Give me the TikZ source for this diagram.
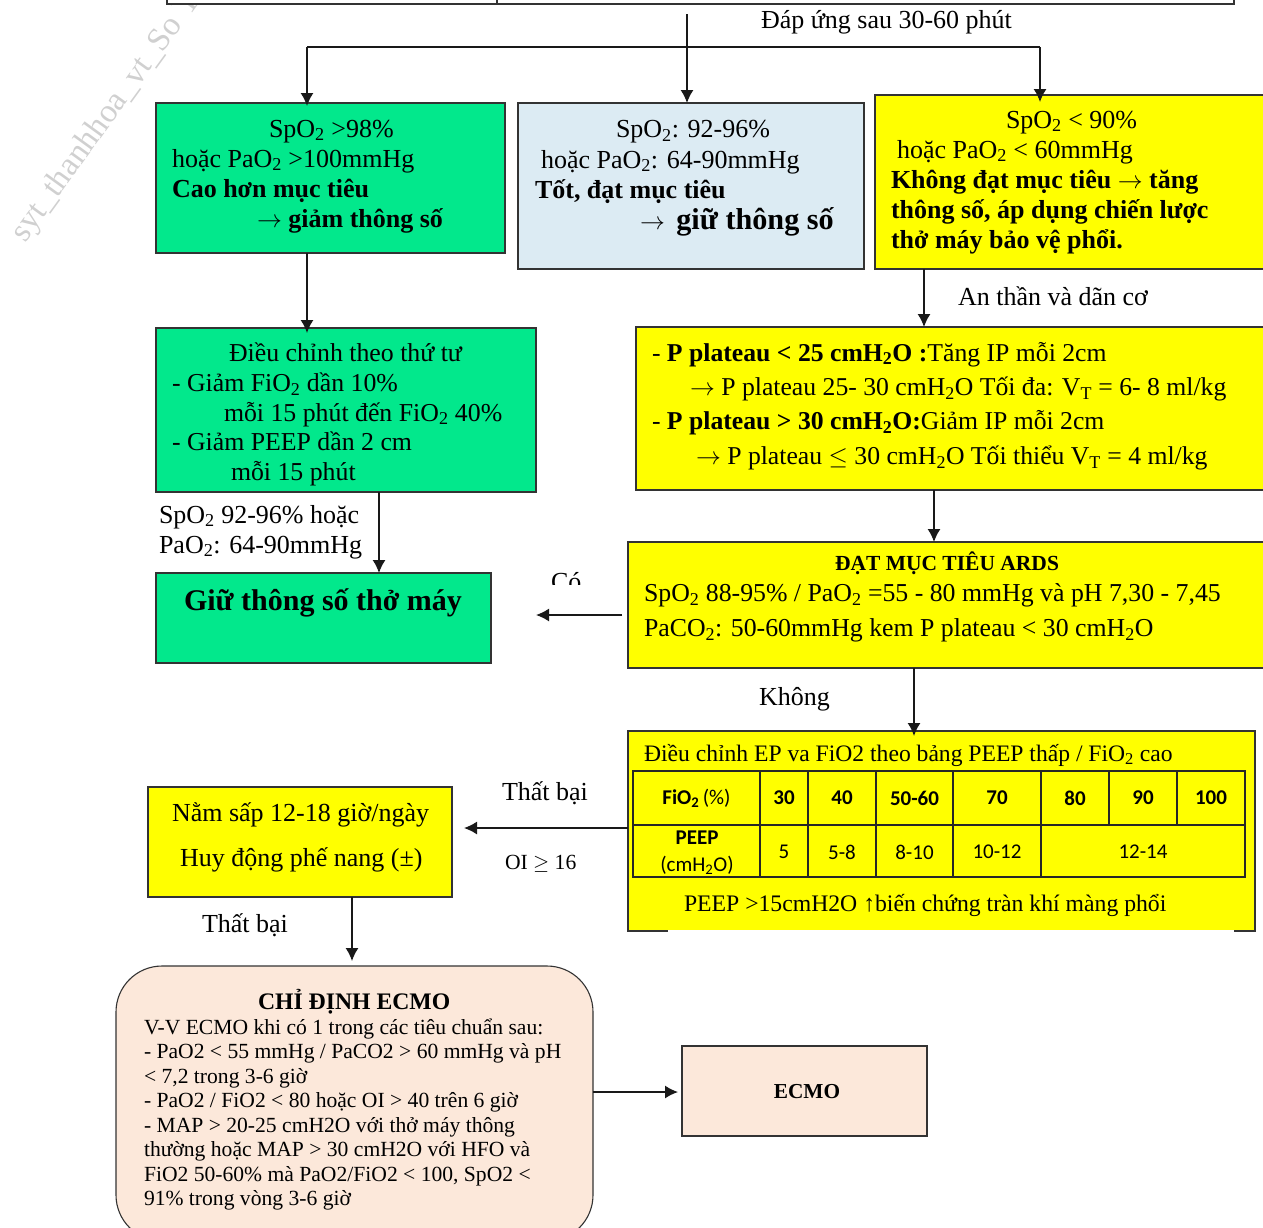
\documentclass[tikz,border=0pt]{standalone}
\usepackage{fontspec}
\setmainfont{Liberation Serif}
\newfontfamily\tblfont{Carlito}
\usetikzlibrary{arrows.meta,calc}
\definecolor{gbox}{RGB}{2,232,140}
\definecolor{ybox}{RGB}{255,255,0}
\definecolor{bbox}{RGB}{220,235,243}
\definecolor{pbox}{RGB}{252,232,218}
\definecolor{wm}{RGB}{208,208,208}
\newcommand{\dn}[1]{\textsubscript{#1}}
\newcommand{\fs}[2]{\fontsize{#1}{#2}\selectfont}
\newcommand{\ra}{$\rightarrow$}
\tikzset{
 boxbase/.style={draw=black!80,line width=1.1pt,anchor=north west,inner sep=0pt,outer sep=0pt},
 greenbox/.style={boxbase,fill=gbox},
 yellowbox/.style={boxbase,fill=ybox},
 bluebox/.style={boxbase,fill=bbox},
 peachbox/.style={boxbase,fill=pbox},
 block/.style={anchor=north west,inner sep=0pt,outer sep=0pt,align=left},
 lab/.style={anchor=base west,inner sep=0pt,outer sep=0pt},
 cellh/.style={inner sep=0pt,font=\tblfont\bfseries\fs{21}{24}},
 cellv/.style={inner sep=0pt,font=\tblfont\fs{21}{24}},
 arr/.style={-{Latex[length=13pt,width=13pt]},line width=1.4pt,black!90},
 plain/.style={line width=1.4pt,black!90},
}
\begin{document}
\begin{tikzpicture}[x=1pt,y=-1pt]
\useasboundingbox (0,0) rectangle (1263,1227);
\clip (0,0) rectangle (1263,1227);
% watermark
\node[lab,rotate=54,text=wm,font=\fs{33}{36}] (wmark) at (25,243) {syt\_thanhhoa\_vt\_So Y};
% top box
\node[boxbase,fill=white,minimum width=330,minimum height=24] (topa) at (167,-20) {};
\node[boxbase,fill=white,minimum width=737,minimum height=24] (topb) at (497,-20) {};
% boxes
\node[greenbox,minimum width=349,minimum height=150] (g1) at (156,103) {};
\node[bluebox,minimum width=346,minimum height=166] (b2) at (518,103) {};
\node[yellowbox,minimum width=400,minimum height=174] (y3) at (875,95) {};
\node[greenbox,minimum width=380,minimum height=164] (g4) at (156,328) {};
\node[yellowbox,minimum width=640,minimum height=163] (y5) at (636,327) {};
\node[greenbox,minimum width=335,minimum height=90] (g6) at (156,573) {};
\node[yellowbox,minimum width=650,minimum height=126] (y7) at (628,542) {};
\node[yellowbox,minimum width=627,minimum height=200] (y8) at (628,731) {};
\fill[white] (668,930) rectangle (1234,933);
\node[yellowbox,minimum width=304,minimum height=110] (y9) at (148,787) {};
\node[peachbox,rounded corners=46pt,minimum width=477,minimum height=275] (ec) at (116,966) {};
\node[peachbox,minimum width=245,minimum height=90] (ecmo) at (682,1046) {};
% texts
\node[block,font=\fs{26}{30}] (tg1) at (172,116) {\strut\hspace*{97pt}SpO\dn{2} >98\%\\hoặc PaO\dn{2} >100mmHg\\\textbf{Cao hơn mục tiêu}\\\hspace*{85pt}\textbf{\ra{} giảm thông số}};
\node[block,font=\fs{26}{30.6}] (tb2) at (535,116) {\strut\hspace*{81pt}SpO\dn{2}: 92-96\%\\\hspace*{6pt}hoặc PaO\dn{2}: 64-90mmHg\\\textbf{Tốt, đạt mục tiêu}\\\hspace*{105pt}\textbf{\fs{30.2}{31}\ra{}\hspace{0.38em}giữ thông số}};
\node[block,font=\fs{26}{30}] (ty3) at (891,107) {\strut\hspace*{115pt}SpO\dn{2} < 90\%\\\hspace*{6pt}hoặc PaO\dn{2} < 60mmHg\\\textbf{Không đạt mục tiêu \ra{} tăng}\\\textbf{thông số, áp dụng chiến lược}\\\textbf{thở máy bảo vệ phổi.}};
\node[block,font=\fs{25.8}{29.7}] (tg4) at (172,341) {\strut\hspace*{57pt}Điều chỉnh theo thứ tư\\- Giảm FiO\dn{2} dần 10\%\\\hspace*{52pt}mỗi 15 phút đến FiO\dn{2} 40\%\\- Giảm PEEP dần 2 cm\\\hspace*{59pt}mỗi 15 phút};
\node[block,font=\fs{25.7}{34.4}] (ty5) at (652,337) {\strut- \textbf{P plateau < 25 cmH\dn{2}O :}Tăng IP mỗi 2cm\\\hspace*{38pt}\ra{} P plateau 25- 30 cmH\dn{2}O Tối đa: V\dn{T} = 6- 8 ml/kg\\- \textbf{P plateau > 30 cmH\dn{2}O:}Giảm IP mỗi 2cm\\\hspace*{44pt}\ra{} P plateau $\leq$ 30 cmH\dn{2}O Tối thiểu V\dn{T} = 4 ml/kg};
\node[lab,font=\bfseries\fs{30}{32}] (tg6) at (184,610) {Giữ thông số thở máy};
\node[lab,font=\bfseries\fs{21.5}{24}] (ty7a) at (835,570) {ĐẠT MỤC TIÊU ARDS};
\node[block,font=\fs{25.8}{35}] (ty7) at (644,577) {\strut SpO\dn{2} 88-95\% / PaO\dn{2} =55 - 80 mmHg và pH 7,30 - 7,45\\PaCO\dn{2}: 50-60mmHg kem P plateau < 30 cmH\dn{2}O};
\node[lab,font=\fs{23.6}{24}] (ty8a) at (644,761) {Điều chỉnh EP va FiO2 theo bảng PEEP thấp / FiO\dn{2} cao};
\node[lab,font=\fs{23.7}{24}] (ty8b) at (684,911) {PEEP >15cmH2O ↑biến chứng tràn khí màng phổi};
\node[lab,font=\fs{26}{28}] (ty9a) at (172,821) {Nằm sấp 12-18 giờ/ngày};
\node[lab,font=\fs{26}{28}] (ty9b) at (180,866) {Huy động phế nang (±)};
\node[lab,font=\bfseries\fs{23.7}{26}] (tec0) at (258,1009) {CHỈ ĐỊNH ECMO};
\node[block,font=\fs{21.6}{24.5}] (tec) at (144,1017) {\strut V-V ECMO khi có 1 trong các tiêu chuẩn sau:\\- PaO2 < 55 mmHg / PaCO2 > 60 mmHg và pH\\< 7,2 trong 3-6 giờ\\- PaO2 / FiO2 < 80 hoặc OI > 40 trên 6 giờ\\- MAP > 20-25 cmH2O với thở máy thông\\thường hoặc MAP > 30 cmH2O với HFO và\\FiO2 50-60\% mà PaO2/FiO2 < 100, SpO2 <\\91\% trong vòng 3-6 giờ};
\node[font=\bfseries\fs{21.3}{24},inner sep=0pt] (tecmo) at (807,1092) {ECMO};
% free labels
\node[lab,font=\fs{26}{28}] (l1) at (761,28) {Đáp ứng sau 30-60 phút};
\node[lab,font=\fs{26}{28}] (l2) at (958,305) {An thần và dãn cơ};
\node[block,font=\fs{26}{30}] (l3) at (159,502) {\strut SpO\dn{2} 92-96\% hoặc\\PaO\dn{2}: 64-90mmHg};
\begin{scope}
\clip (540,560) rectangle (600,584);
\node[lab,font=\fs{26}{28}] (l4) at (551,590) {Có};
\end{scope}
\node[lab,font=\fs{26}{28}] (l5) at (759,705) {Không};
\node[lab,font=\fs{26}{28}] (l6) at (502,800) {Thất bại};
\node[lab,font=\fs{21.6}{24}] (l7) at (505,869) {OI $\geq$ 16};
\node[lab,font=\fs{26}{28}] (l8) at (202,932) {Thất bại};
% table
\draw[line width=1.1pt,black!85] (633,771) rectangle (1245,877) (633,825) -- (1245,825);
\foreach \tx in {760,808,876,953,1041} \draw[line width=1.1pt,black!85] (\tx,771) -- (\tx,877);
\foreach \tx in {1109,1177} \draw[line width=1.1pt,black!85] (\tx,771) -- (\tx,825);
\node[cellh] (h0) at (696.5,798) {FiO\dn{2}\,\tblfont\mdseries(\%)};
\node[cellh] (h1) at (784,798) {30};
\node[cellh] (h2) at (842,798) {40};
\node[cellh] (h3) at (914.5,798) {50-60};
\node[cellh] (h4) at (997,798) {70};
\node[cellh] (h5) at (1075,798) {80};
\node[cellh] (h6) at (1143,798) {90};
\node[cellh] (h7) at (1211,798) {100};
\node[cellh] (v0a) at (697,838) {PEEP};
\node[cellv] (v0b) at (697,865) {(cmH\dn{2}O)};
\node[cellv] (v1) at (784,852) {5};
\node[cellv] (v2) at (842,852) {5-8};
\node[cellv] (v3) at (914.5,852) {8-10};
\node[cellv] (v4) at (997,852) {10-12};
\node[cellv] (v5) at (1143,852) {12-14};
% connector guides
\coordinate (xa) at (307,47);
\coordinate (xb) at (687,47);
\coordinate (xc) at (1040,47);
\coordinate (xd) at (379,0);
\coordinate (xe) at (924,0);
\coordinate (xf) at (934,0);
\coordinate (xg) at (914,0);
\coordinate (xh) at (352,0);
\coordinate (ya) at (0,615);
\coordinate (yb) at (0,828);
\coordinate (yc) at (0,1092);
% connectors
\draw[arr] ($(xb |- topb.south)+(0,10)$) -- (xb |- b2.north);
\draw[plain] (xa) -- (xc);
\draw[arr] (xa) -- ($(xa |- g1.north)+(0,3)$);
\draw[arr] (xc) -- ($(xc |- y3.north)+(0,7)$);
\draw[arr] (xa |- g1.south) -- ($(xa |- g4.north)+(0,5)$);
\draw[arr] (xd |- g4.south) -- (xd |- g6.north);
\draw[arr] (xe |- y3.south) -- (xe |- y5.north);
\draw[arr] (xf |- y5.south) -- (xf |- y7.north);
\draw[arr] (xg |- y7.south) -- ($(xg |- y8.north)+(0,5)$);
\draw[arr] ($(ya -| y7.west)+(-6,0)$) -- ($(ya -| g6.east)+(45,0)$);
\draw[arr] (yb -| y8.west) -- ($(yb -| y9.east)+(12,0)$);
\draw[arr] (xh |- y9.south) -- ($(xh |- ec.north)+(0,-5)$);
\draw[arr] (yc -| ec.east) -- ($(yc -| ecmo.west)+(-4,0)$);
\end{tikzpicture}
\end{document}
